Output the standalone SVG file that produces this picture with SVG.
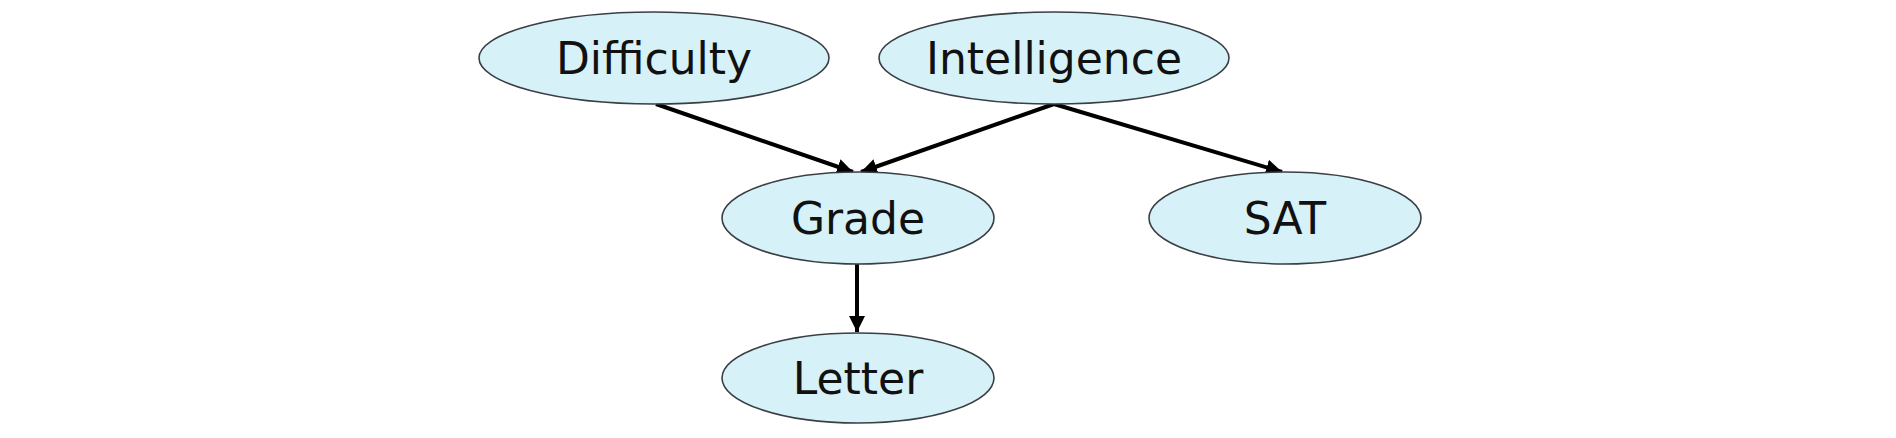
<svg xmlns="http://www.w3.org/2000/svg" width="1896" height="438" viewBox="0 0 1896 438">
<style>
.node ellipse{fill:#d6f2f8;stroke:#3a3f44;stroke-width:1.6}
.node text{font-family:"DejaVu Sans","Liberation Sans",sans-serif;font-size:44px;fill:#111;text-anchor:middle}
.edge{stroke:#000;stroke-width:4;fill:none;marker-end:url(#ah)}
</style>
<defs>
<marker id="ah" viewBox="0 0 10 10" refX="10" refY="5" markerWidth="4" markerHeight="4" orient="auto" markerUnits="strokeWidth">
<path d="M0,0 L10,5 L0,10 z" fill="#000"/>
</marker>
</defs>
<rect width="1896" height="438" fill="#fff"/>
<g id="connectors">
<line class="edge" x1="656" y1="104" x2="853" y2="172"/>
<line class="edge" x1="1054" y1="104" x2="861" y2="172"/>
<line class="edge" x1="1054" y1="104" x2="1282" y2="172"/>
<line class="edge" x1="857" y1="264" x2="857" y2="332"/>
</g>
<g id="difficulty" class="node"><ellipse cx="654" cy="58" rx="175" ry="46"/><text x="654" y="74">Difficulty</text></g>
<g id="intelligence" class="node"><ellipse cx="1054" cy="58" rx="175" ry="46"/><text x="1054" y="74">Intelligence</text></g>
<g id="grade" class="node"><ellipse cx="858" cy="218" rx="136" ry="46"/><text x="858" y="234">Grade</text></g>
<g id="sat" class="node"><ellipse cx="1285" cy="218" rx="136" ry="46"/><text x="1285" y="234">SAT</text></g>
<g id="letter" class="node"><ellipse cx="858" cy="378" rx="136" ry="45"/><text x="858" y="394">Letter</text></g>
</svg>
